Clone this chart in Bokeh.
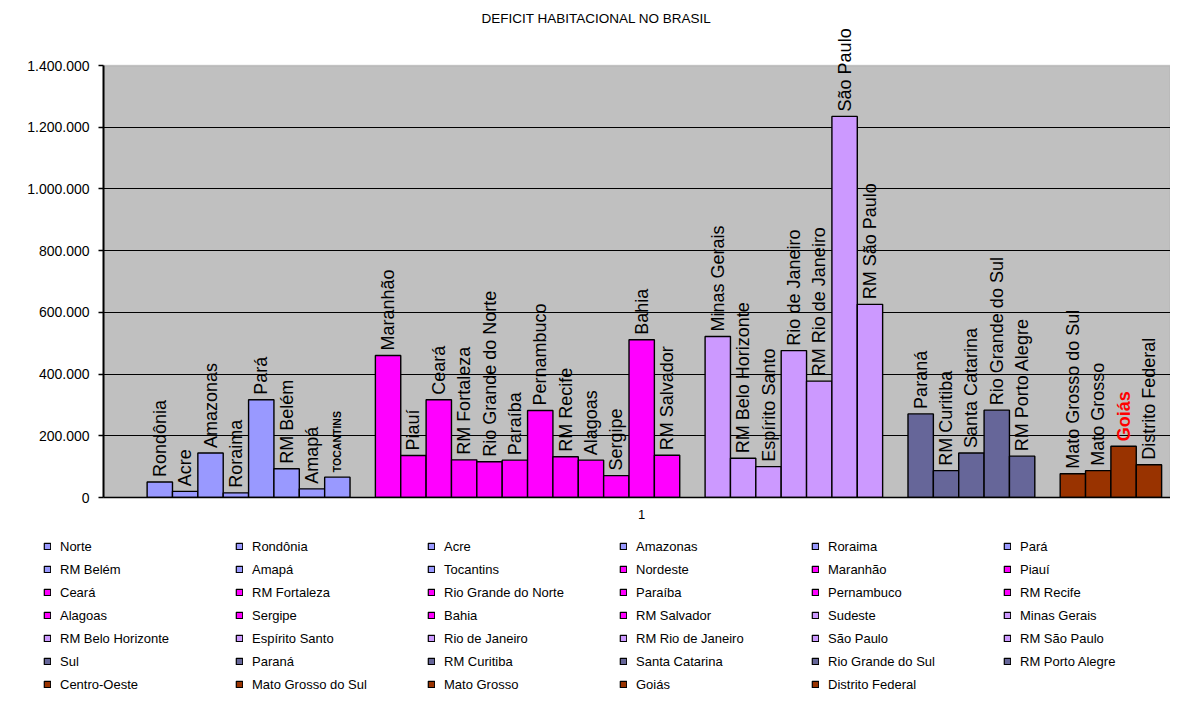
import math
from bokeh.plotting import figure
from bokeh.layouts import column
from bokeh.core.properties import value
from bokeh.models import (ColumnDataSource, LabelSet, Label, Legend, LegendItem,
                          FixedTicker, Range1d, BoxAnnotation)
from bokeh.embed import file_html
from bokeh.resources import INLINE

# ---------------- data ----------------
title_text = "DEFICIT HABITACIONAL NO BRASIL"
category_labels = ["1"]

series_names = [
    "Norte", "Rondônia", "Acre", "Amazonas", "Roraima", "Pará", "RM Belém", "Amapá", "Tocantins",
    "Nordeste", "Maranhão", "Piauí", "Ceará", "RM Fortaleza", "Rio Grande do Norte", "Paraíba",
    "Pernambuco", "RM Recife", "Alagoas", "Sergipe", "Bahia", "RM Salvador",
    "Sudeste", "Minas Gerais", "RM Belo Horizonte", "Espírito Santo", "Rio de Janeiro",
    "RM Rio de Janeiro", "São Paulo", "RM São Paulo",
    "Sul", "Paraná", "RM Curitiba", "Santa Catarina", "Rio Grande do Sul", "RM Porto Alegre",
    "Centro-Oeste", "Mato Grosso do Sul", "Mato Grosso", "Goiás", "Distrito Federal",
]

series_region = (["Norte"] * 9 + ["Nordeste"] * 13 + ["Sudeste"] * 8 +
                 ["Sul"] * 6 + ["Centro-Oeste"] * 5)

deficit = [
    None, 50000, 20000, 144000, 15000, 317000, 93000, 28000, 66000,
    None, 460000, 136000, 317000, 122000, 116000, 121000, 282000, 132000, 121000, 71000, 511000, 137000,
    None, 522000, 127000, 100000, 476000, 377000, 1235000, 626000,
    None, 271000, 87000, 144000, 283000, 134000,
    None, 77000, 87000, 166000, 106000,
]

bar_labels = [
    "", "Rondônia", "Acre", "Amazonas", "Roraima", "Pará", "RM Belém", "Amapá", "TOCANTINS",
    "", "Maranhão", "Piauí", "Ceará", "RM Fortaleza", "Rio Grande do Norte", "Paraíba",
    "Pernambuco", "RM Recife", "Alagoas", "Sergipe", "Bahia", "RM Salvador",
    "", "Minas Gerais", "RM Belo Horizonte", "Espírito Santo", "Rio de Janeiro",
    "RM Rio de Janeiro", "São Paulo", "RM São Paulo",
    "", "Paraná", "RM Curitiba", "Santa Catarina", "Rio Grande do Sul", "RM Porto Alegre",
    "", "Mato Grosso do Sul", "Mato Grosso", "Goiás", "Distrito Federal",
]

region_colors = {
    "Norte": "#9999FF",
    "Nordeste": "#FF00FF",
    "Sudeste": "#CC99FF",
    "Sul": "#666699",
    "Centro-Oeste": "#993300",
}

y_ticks = [0, 200000, 400000, 600000, 800000, 1000000, 1200000, 1400000]
y_tick_labels = ["0", "200.000", "400.000", "600.000", "800.000", "1.000.000", "1.200.000", "1.400.000"]

# ---------------- layout constants ----------------
W = 1170
MAIN_H = 530
LEG_H = 165
FRAME_L = 103
FRAME_B = 497           # frame spans from page top to the zero line
PLOT_TOP_PX = 65        # where the top of the value axis sits
Y_MAX = y_ticks[-1]
Y_RANGE_END = Y_MAX * FRAME_B / (FRAME_B - PLOT_TOP_PX)
FONT = "Liberation Sans"

# ---------------- source ----------------
n = len(series_names)
xs = list(range(n))
tops = [float("nan") if v is None else v for v in deficit]
label_y = [0 if v is None else v for v in deficit]
colors = [region_colors[r] for r in series_region]
lab_size = ["10.5px" if t == "TOCANTINS" else "18px" for t in bar_labels]
lab_style = ["bold" if t in ("TOCANTINS", "Goiás") else "normal" for t in bar_labels]
lab_color = ["#FF0000" if t == "Goiás" else "#000000" for t in bar_labels]

src = ColumnDataSource(dict(x=xs, top=tops, ly=label_y, color=colors, name=series_names,
                            lab=bar_labels, lsize=lab_size, lstyle=lab_style, lcolor=lab_color))

p = figure(width=W, height=MAIN_H, output_backend="svg", toolbar_location=None,
           x_range=Range1d(-1.22, 40.85), y_range=Range1d(0, Y_RANGE_END),
           min_border_left=FRAME_L, min_border_right=0, min_border_top=0,
           min_border_bottom=MAIN_H - FRAME_B,
           background_fill_color="white", border_fill_color="white",
           outline_line_color=None)
p.frame_align = False

# grey plot area up to the top of the value axis
plot_area = BoxAnnotation(bottom=0, top=Y_MAX, fill_color="#C0C0C0", fill_alpha=1.0,
                          line_color="#808080", line_width=1.5, level="image")
p.add_layout(plot_area)

r = p.vbar(x="x", top="top", bottom=0, width=1.0, source=src,
           fill_color="color", line_color="#000000", line_width=1.4)

labels = LabelSet(x="x", y="ly", text="lab", source=src, angle=math.pi / 2,
                  text_align="left", text_baseline="middle", y_offset=5,
                  text_font=value(FONT), text_font_size="lsize",
                  text_font_style="lstyle", text_color="lcolor")
p.add_layout(labels)

title = Label(x=596 - FRAME_L, y=FRAME_B - 18, x_units="screen", y_units="screen",
              text=title_text, text_align="center", text_baseline="middle",
              text_font=FONT, text_font_size="13.5px", text_color="#000000")
p.add_layout(title)

# axes
p.yaxis.ticker = FixedTicker(ticks=y_ticks)
p.yaxis.bounds = (0, Y_MAX)
p.yaxis.major_label_overrides = dict(zip(y_ticks, y_tick_labels))
p.yaxis.major_label_text_font = FONT
p.yaxis.major_label_text_font_size = "14px"
p.yaxis.major_label_text_color = "#000000"
p.yaxis.major_tick_out = 5
p.yaxis.major_tick_in = 0
p.yaxis.minor_tick_line_color = None
p.yaxis.major_label_standoff = 9
p.yaxis.axis_line_color = "#000000"
p.yaxis.axis_line_width = 2
p.yaxis.major_tick_line_color = "#000000"
p.yaxis.major_tick_line_width = 1.5

center_x = (n - 1) / 2
p.xaxis.ticker = FixedTicker(ticks=[center_x])
p.xaxis.major_label_overrides = {center_x: category_labels[0]}
p.xaxis.major_label_text_font = FONT
p.xaxis.major_label_text_font_size = "13px"
p.xaxis.major_label_text_color = "#000000"
p.xaxis.major_tick_out = 0
p.xaxis.major_tick_in = 0
p.xaxis.minor_tick_line_color = None
p.xaxis.major_label_standoff = 12
p.xaxis.axis_line_color = "#000000"
p.xaxis.axis_line_width = 1.5

p.xgrid.grid_line_color = None
p.ygrid.grid_line_color = "#000000"
p.ygrid.grid_line_width = 1
p.ygrid.ticker = FixedTicker(ticks=y_ticks[1:-1])

# ---------------- legend panel ----------------
# the legend's own (zero-size) renderer lies outside this panel's visible range;
# only its legend entries are seen
lp = figure(width=W, height=LEG_H, output_backend="svg", toolbar_location=None,
            x_range=Range1d(n + 5, n + 6), y_range=Range1d(5, 6),
            x_axis_type=None, y_axis_type=None,
            min_border_left=0, min_border_right=0, min_border_top=0, min_border_bottom=0,
            background_fill_color="white", border_fill_color="white", outline_line_color=None)
lp.frame_align = False
lp.grid.visible = False
lr = lp.vbar(x="x", top=0, bottom=0, width=0.0, source=src,
             fill_color="color", line_color="#000000", line_width=1.2)

items = [LegendItem(label=series_names[i], renderers=[lr], index=i) for i in range(n)]
legend = Legend(items=items, location=(43, 3), orientation="horizontal", ncols=6,
                glyph_width=8, glyph_height=8, label_standoff=9, label_width=168,
                label_height=16, spacing=7, padding=0, margin=0,
                border_line_color=None, background_fill_alpha=0,
                label_text_font=FONT, label_text_font_size="13px", label_text_color="#000000")
lp.add_layout(legend)

layout = column(p, lp, spacing=0)
open("out.html", "w").write(file_html(layout, INLINE))
